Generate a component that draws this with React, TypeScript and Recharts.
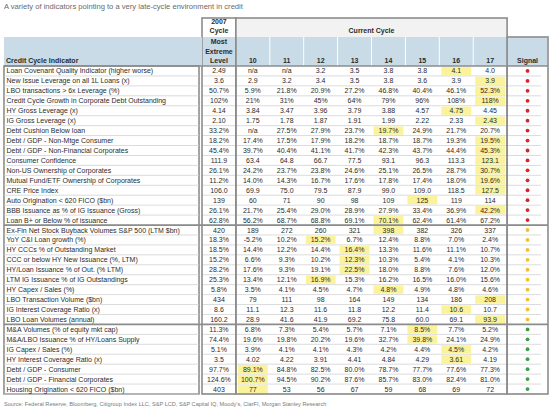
import React from "react";
import { ScatterChart, Scatter, XAxis, YAxis } from "recharts";

const indicators = [
  "Loan Covenant Quality Indicator (higher worse)",
  "New Issue Leverage on all 1L Loans (x)",
  "LBO transactions > 6x Leverage (%)",
  "Credit Cycle Growth in Corporate Debt Outstanding",
  "HY Gross Leverage (x)",
  "IG Gross Leverage (x)",
  "Debt Cushion Below loan",
  "Debt / GDP - Non-Mtge Consumer",
  "Debt / GDP - Non-Financial Corporates",
  "Consumer Confidence",
  "Non-US Ownership of Corporates",
  "Mutual Fund/ETF Ownership of Corporates",
  "CRE Price Index",
  "Auto Origination < 620 FICO ($bn)",
  "BBB Issuance as % of IG Issuance (Gross)",
  "Loan B+ or Below % of issuance",
  "Ex-Fin Net Stock Buyback Volumes S&P 500 (LTM $bn)",
  "YoY C&I Loan growth (%)",
  "HY CCCs % of Outstanding Market",
  "CCC or below HY New Issuance (%, LTM)",
  "HY/Loan Issuance % of Out. (% LTM)",
  "LTM IG Issuance % of IG Outstandings",
  "HY Capex / Sales (%)",
  "LBO Transaction Volume ($bn)",
  "IG Interest Coverage Ratio (x)",
  "LBO Loan Volumes (annual)",
  "M&A Volumes (% of equity mkt cap)",
  "M&A/LBO Issuance % of HY/Loans Supply",
  "IG Capex / Sales (%)",
  "HY Interest Coverage Ratio (x)",
  "Debt / GDP - Consumer",
  "Debt / GDP - Financial Corporates",
  "Housing Origination < 620 FICO ($bn)",
];

const extreme2007 = ["2.49", "3.6", "50.7%", "102%", "4.14", "2.10", "33.2%", "18.2%", "45.4%", "111.9", "26.1%", "11.2%", "106.0", "139", "26.1%", "62.8%", "420", "18.3%", "18.5%", "15.2%", "28.2%", "25.3%", "5.8%", "434", "8.6", "160.2", "11.3%", "74.4%", "5.1%", "3.5", "97.7%", "124.6%", "403"];

const years = ["10", "11", "12", "13", "14", "15", "16", "17"];

const y10 = ["n/a", "2.9", "5.9%", "21%", "3.84", "1.75", "n/a", "17.4%", "39.7%", "63.4", "24.2%", "14.0%", "69.9", "60", "21.7%", "56.2%", "189", "-5.2%", "14.4%", "6.6%", "17.6%", "13.4%", "3.5%", "79", "11.1", "28.9", "6.8%", "19.6%", "3.9%", "4.02", "89.1%", "100.7%", "77"];
const y11 = ["n/a", "3.2", "21.8%", "31%", "3.47", "1.78", "27.5%", "17.5%", "40.4%", "64.8", "23.7%", "14.3%", "75.0", "71", "25.4%", "68.7%", "272", "10.2%", "12.2%", "9.3%", "9.3%", "12.1%", "4.1%", "111", "12.3", "41.6", "7.3%", "19.8%", "4.1%", "4.22", "84.8%", "94.5%", "53"];
const y12 = ["3.2", "3.4", "20.9%", "45%", "3.96", "1.87", "27.9%", "17.9%", "41.1%", "66.7", "23.8%", "16.7%", "79.5", "90", "29.0%", "68.8%", "260", "15.2%", "14.4%", "10.2%", "19.1%", "16.9%", "4.5%", "98", "11.6", "41.9", "5.4%", "20.2%", "4.1%", "3.91", "82.5%", "90.2%", "56"];
const y13 = ["3.5", "3.5", "27.2%", "64%", "3.79", "1.91", "23.7%", "18.2%", "41.7%", "77.5", "24.6%", "17.6%", "87.9", "98", "28.9%", "69.1%", "321", "6.7%", "16.4%", "12.3%", "22.5%", "15.3%", "4.7%", "164", "11.8", "69.2", "5.7%", "19.6%", "4.3%", "4.41", "80.0%", "87.6%", "67"];
const y14 = ["3.8", "3.8", "46.8%", "79%", "3.88", "1.99", "19.7%", "18.7%", "42.3%", "93.1", "25.1%", "17.8%", "99.0", "109", "27.9%", "70.1%", "398", "12.4%", "13.3%", "10.3%", "18.0%", "16.2%", "4.8%", "149", "12.2", "75.8", "7.1%", "32.7%", "4.2%", "4.84", "78.7%", "85.7%", "59"];
const y15 = ["3.8", "3.6", "40.4%", "96%", "4.57", "2.22", "24.9%", "18.7%", "43.7%", "96.3", "26.5%", "17.4%", "109.0", "125", "33.4%", "62.4%", "382", "8.8%", "11.6%", "5.4%", "8.8%", "16.5%", "4.9%", "134", "11.4", "60.0", "8.5%", "39.8%", "4.4%", "4.29", "77.7%", "83.0%", "68"];
const y16 = ["4.1", "3.9", "46.1%", "108%", "4.75", "2.33", "21.7%", "19.3%", "44.4%", "113.3", "28.7%", "18.0%", "118.5", "119", "36.9%", "61.4%", "326", "7.0%", "11.1%", "4.1%", "7.6%", "16.0%", "4.8%", "186", "10.6", "69.1", "7.7%", "24.1%", "4.5%", "3.61", "77.6%", "82.4%", "69"];
const y17 = ["4.0", "3.9", "52.3%", "118%", "4.45", "2.43", "20.7%", "19.5%", "45.3%", "123.1", "30.7%", "19.6%", "127.5", "114", "42.2%", "67.2%", "337", "2.4%", "10.7%", "10.3%", "12.0%", "15.6%", "4.6%", "208", "10.7", "93.9", "5.2%", "24.9%", "4.2%", "4.19", "77.3%", "81.0%", "72"];

// year column holding the most extreme reading of the current cycle
const peakYear = ["16", "17", "17", "17", "16", "17", "14", "17", "17", "17", "17", "17", "17", "15", "17", "14", "14", "12", "13", "13", "13", "12", "14", "17", "16", "17", "15", "15", "16", "16", "10", "10", "10"];

const signals = [
  "red", "red", "red", "red", "red", "red", "red", "red", "red", "red", "red", "red", "red", "red", "red", "red",
  "amber", "amber", "amber", "amber", "amber", "amber", "amber", "amber", "amber", "amber",
  "green", "green", "green", "green", "green", "green", "green",
];

const yearValues: Record<string, string[]> = { "10": y10, "11": y11, "12": y12, "13": y13, "14": y14, "15": y15, "16": y16, "17": y17 };
const columns = ["2007", ...years, "Signal"];

const cells = indicators.flatMap((name, i) =>
  columns.map((col) => ({
    col,
    row: name,
    text: col === "2007" ? extreme2007[i] : col === "Signal" ? "" : yearValues[col][i],
    hl: peakYear[i] === col,
    signal: col === "Signal" ? signals[i] : null,
  }))
);

// layout
const W = 550;
const H = 416;
const TABLE_LEFT = 4;
const HEAD_TOP = 18;
const BAND_TOP = 37;
const PLOT_TOP = 66;
const PLOT_BOTTOM = 394;
const PLOT_LEFT = 202;
const PAD_RIGHT = 7;
const TABLE_RIGHT = 548;
const BW = (TABLE_RIGHT - PAD_RIGHT - PLOT_LEFT) / columns.length;
const RH = (PLOT_BOTTOM - PLOT_TOP) / indicators.length;

const FONT = '"Liberation Sans", Arial, sans-serif';
const BLUE = "#c8dbe6";
const FRAME = "#8c8c8c";
const ROWLINE = "#d2d2d2";
const TEXT = "#2b2b2b";
const YELLOW = "#fbf39b";
const signalColor: Record<string, string> = { red: "#d8232a", amber: "#f0bf35", green: "#3c9e4c" };

const CellShape = (props: any) => {
  const { cx, cy, payload } = props;
  if (cx == null || cy == null) return null;
  const left = cx - BW / 2;
  return (
    <g>
      {payload.hl && (
        <rect x={left + 2} y={cy - RH / 2 + 0.8} width={BW - 4} height={RH - 1.6} fill={YELLOW} />
      )}
      <line x1={left} x2={left + BW} y1={cy + RH / 2} y2={cy + RH / 2} stroke={ROWLINE} strokeWidth={0.8} />
      {payload.signal ? (
        <circle cx={cx + PAD_RIGHT / 2} cy={cy} r={1.9} fill={signalColor[payload.signal]} />
      ) : (
        <text x={cx} y={cy + 2.5} textAnchor="middle" fontSize={7} fontFamily={FONT} fill={TEXT}>
          {payload.text}
        </text>
      )}
    </g>
  );
};

const HeaderTick = (props: any) => {
  const { x, payload } = props;
  const v = String(payload.value);
  const left = x - BW / 2;
  const isSignal = v === "Signal";
  const cellW = isSignal ? TABLE_RIGHT - left : BW;
  const bold = { fontSize: 7, fontFamily: FONT, fontWeight: 700, fill: TEXT, textAnchor: "middle" as const };
  return (
    <g>
      <rect x={left + 0.5} y={BAND_TOP} width={cellW - 1} height={PLOT_TOP - BAND_TOP} fill={BLUE} />
      {v === "2007" ? (
        <g>
          <text x={x} y={23.5} {...bold}>2007</text>
          <text x={x} y={33} {...bold}>Cycle</text>
          <text x={x} y={44} {...bold}>Most</text>
          <text x={x} y={53.5} {...bold}>Extreme</text>
          <text x={x} y={62.5} {...bold}>Level</text>
          <rect x={left} y={HEAD_TOP} width={BW} height={PLOT_BOTTOM - HEAD_TOP} fill="none" stroke={FRAME} strokeWidth={1.6} />
        </g>
      ) : (
        <text x={left + cellW / 2} y={62.5} {...bold}>{v}</text>
      )}
      {v === years[0] && (
        <g>
          <rect x={left} y={HEAD_TOP} width={BW * years.length} height={BAND_TOP - HEAD_TOP} fill="#f2f2f2" />
          <text x={left + (BW * years.length) / 2} y={33} {...bold}>Current Cycle</text>
          <rect x={left} y={HEAD_TOP} width={BW * years.length} height={PLOT_BOTTOM - HEAD_TOP} fill="none" stroke={FRAME} strokeWidth={1.6} />
        </g>
      )}
      {isSignal && (
        <rect x={left} y={BAND_TOP} width={cellW} height={PLOT_BOTTOM - BAND_TOP} fill="none" stroke={FRAME} strokeWidth={1.6} />
      )}
    </g>
  );
};

const RowTick = (props: any) => {
  const { y, payload } = props;
  const i = indicators.indexOf(payload.value);
  const sectionStart = i > 0 && signals[i] !== signals[i - 1];
  return (
    <g>
      {i === 0 && (
        <g>
          <rect x={TABLE_LEFT} y={BAND_TOP} width={PLOT_LEFT - TABLE_LEFT} height={PLOT_TOP - BAND_TOP} fill={BLUE} />
          <text x={TABLE_LEFT + 2} y={62.5} fontSize={7} fontWeight={700} fontFamily={FONT} fill={TEXT}>
            Credit Cycle Indicator
          </text>
          <line x1={TABLE_LEFT} x2={TABLE_RIGHT} y1={PLOT_TOP} y2={PLOT_TOP} stroke={FRAME} strokeWidth={1.4} />
          <rect x={TABLE_LEFT} y={PLOT_TOP} width={PLOT_LEFT - 3 - TABLE_LEFT} height={PLOT_BOTTOM - PLOT_TOP} fill="none" stroke={FRAME} strokeWidth={1.6} />
        </g>
      )}
      <line x1={TABLE_LEFT} x2={PLOT_LEFT - 3} y1={y + RH / 2} y2={y + RH / 2} stroke={ROWLINE} strokeWidth={0.8} />
      {sectionStart && (
        <line x1={TABLE_LEFT} x2={TABLE_RIGHT} y1={y - RH / 2} y2={y - RH / 2} stroke={FRAME} strokeWidth={1.8} />
      )}
      <text x={TABLE_LEFT + 2.5} y={y + 2.5} fontSize={7} fontFamily={FONT} fill={TEXT}>
        {payload.value}
      </text>
    </g>
  );
};

export default function App() {
  return (
    <div style={{ position: "absolute", left: 0, top: 0, width: W, height: H, background: "#fff", fontFamily: FONT }}>
      <div style={{ position: "absolute", left: 4, top: 2, fontSize: 7.6, color: "#6a6a6a", whiteSpace: "nowrap" }}>
        A variety of indicators pointing to a very late-cycle environment in credit
      </div>
      <ScatterChart width={W} height={H} margin={{ top: HEAD_TOP, right: W - TABLE_RIGHT, bottom: H - PLOT_BOTTOM, left: TABLE_LEFT }}>
        <Scatter data={cells} shape={<CellShape />} isAnimationActive={false} />
        <XAxis
          dataKey="col"
          type="category"
          orientation="top"
          height={PLOT_TOP - HEAD_TOP}
          allowDuplicatedCategory={false}
          padding={{ left: 0, right: PAD_RIGHT }}
          interval={0}
          tickLine={false}
          axisLine={false}
          tick={<HeaderTick />}
        />
        <YAxis
          dataKey="row"
          type="category"
          width={PLOT_LEFT - TABLE_LEFT}
          allowDuplicatedCategory={false}
          reversed
          interval={0}
          tickLine={false}
          axisLine={false}
          tick={<RowTick />}
        />
      </ScatterChart>
      <div style={{ position: "absolute", left: 4, top: 401, fontSize: 5.6, color: "#7a7a7a", whiteSpace: "nowrap" }}>
        Source: Federal Reserve, Bloomberg, Citigroup Index LLC, S&amp;P LCD, S&amp;P Capital IQ, Moody's, ClarFI, Morgan Stanley Research
      </div>
    </div>
  );
}
